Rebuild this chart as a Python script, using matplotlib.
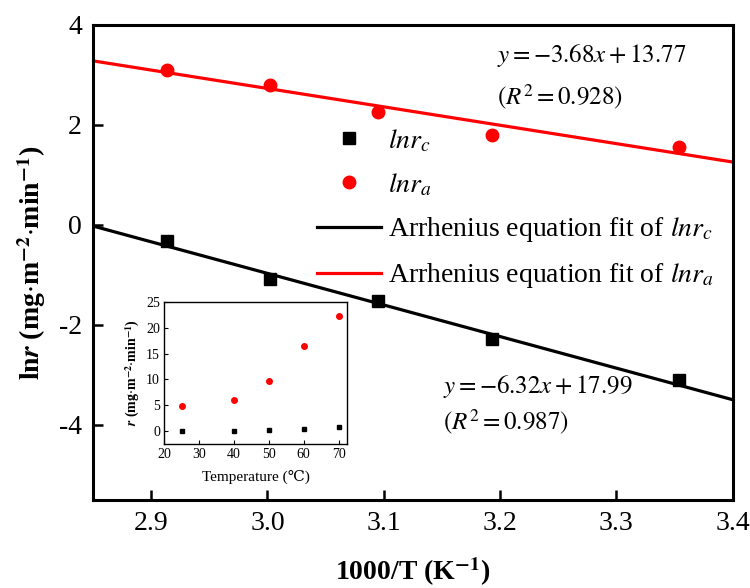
import numpy as np
import matplotlib
matplotlib.use("Agg")
import matplotlib.pyplot as plt

plt.rcParams['font.family'] = ['Liberation Serif', 'DejaVu Serif']
plt.rcParams['mathtext.fontset'] = 'stix'
plt.rcParams['axes.unicode_minus'] = False

# data
inv_T = [2.914, 3.002, 3.095, 3.193, 3.354]      # 1000/T
ln_rc = [-0.32, -1.08, -1.52, -2.28, -3.10]
ln_ra = [3.10, 2.80, 2.26, 1.80, 1.56]

# Arrhenius fits (slope, intercept)
fit_c = [-6.32, 17.99]
fit_a = [-3.68, 13.77]

# inset: rate vs temperature
temp_C = [25, 40, 50, 60, 70]
r_c = [0.05, 0.10, 0.22, 0.34, 0.73]
r_a = [4.8, 6.0, 9.6, 16.4, 22.2]

xticks = [2.9, 3.0, 3.1, 3.2, 3.3, 3.4]
yticks = [-4, -2, 0, 2, 4]

fig = plt.figure(figsize=(7.5, 5.88), dpi=100)
ax = fig.add_axes([0.124, 0.150, 0.853, 0.8075])

xx = np.array([2.85, 3.4])
ax.plot(inv_T, ln_rc, 's', color='black', ms=8.5, label='$lnr_c$', zorder=3)
ax.plot(inv_T, ln_ra, 'o', color='red', ms=9, label='$lnr_a$', zorder=3)
ax.plot(xx, fit_c[0] * xx + fit_c[1], color='black', lw=2.3,
        label='Arrhenius equation fit of $lnr_c$')
ax.plot(xx, fit_a[0] * xx + fit_a[1], color='red', lw=2.3,
        label='Arrhenius equation fit of $lnr_a$')

ax.set_xlim(2.85, 3.4)
ax.set_ylim(-5.5, 4)
ax.set_xticks(xticks)
ax.set_xticklabels(['%.1f' % v for v in xticks])
ax.set_yticks(yticks)
ax.tick_params(direction='in', length=7, width=1.8, labelsize=20, pad=8)
for s in ax.spines.values():
    s.set_linewidth(2.2)

ax.set_xlabel(r'1000/T (K$^{\mathbf{-1}}$)', fontsize=20, fontweight='bold', labelpad=14)
ax.set_ylabel(r'ln$\mathbfit{r}$ (mg$\cdot$m$^{\mathbf{-2}}$$\cdot$min$^{\mathbf{-1}}$)',
              fontsize=20, fontweight='bold', labelpad=8)

ax.legend(loc='upper left', bbox_to_anchor=(0.423, 0.783), bbox_transform=fig.transFigure,
          frameon=False, fontsize=20, handlelength=2.3, handletextpad=0.25,
          labelspacing=0.62, borderpad=0, borderaxespad=0)

fig.text(0.663, 0.906, r'$y = -3.68x + 13.77$', fontsize=18, va='center')
fig.text(0.663, 0.835, r'$(R^2 = 0.928)$', fontsize=18, va='center')
fig.text(0.591, 0.342, r'$y = -6.32x + 17.99$', fontsize=18, va='center')
fig.text(0.591, 0.281, r'$(R^2 = 0.987)$', fontsize=18, va='center')

# inset
ins = fig.add_axes([0.219, 0.245, 0.244, 0.2415])
ins.plot(temp_C, r_c, 's', color='black', ms=3.5)
ins.plot(temp_C, r_a, 'o', color='red', ms=4)
ins.set_xlim(20, 72.5)
ins.set_ylim(-2.5, 25)
ins.set_xticks([20, 30, 40, 50, 60, 70])
ins.set_yticks([0, 5, 10, 15, 20, 25])
ins.tick_params(direction='in', length=3, width=0.8, labelsize=10, pad=3)
for s in ins.spines.values():
    s.set_linewidth(1)
ins.set_xlabel('Temperature (℃)', fontsize=11, labelpad=6)
ins.set_ylabel(r'$\mathbfit{r}$ (mg$\cdot$m$^{\mathbf{-2}}$$\cdot$min$^{\mathbf{-1}}$)',
               fontsize=10, fontweight='bold', labelpad=3)

fig.savefig('out.png', dpi=100)
